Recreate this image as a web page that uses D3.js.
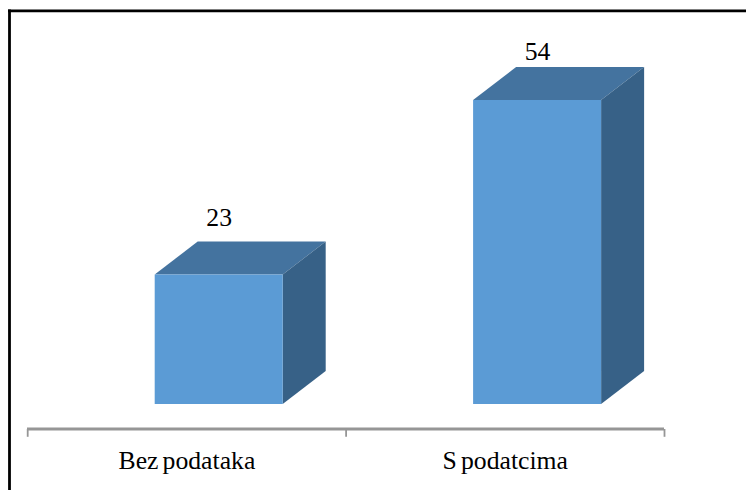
<!DOCTYPE html>
<html><head><meta charset="utf-8">
<script src="https://cdn.jsdelivr.net/npm/d3@7/dist/d3.min.js"></script>
<style>html,body{margin:0;padding:0;background:#fff}svg{display:block}</style>
</head><body><svg id="c" width="746" height="490"></svg>
<script>
const categories = ["Bez podataka", "S podatcima"];
const values = [23, 54];

const svg = d3.select("#c");
svg.append("line").attr("x1",8).attr("x2",746).attr("y1",10.8).attr("y2",10.8).attr("stroke","#000").attr("stroke-width",2.8);
svg.append("line").attr("x1",9.5).attr("x2",9.5).attr("y1",9.4).attr("y2",490).attr("stroke","#000").attr("stroke-width",2.8);

const x = d3.scaleBand().domain(categories).range([27.7,664.5]);
const y = d3.scaleLinear().domain([0,54]).range([404,100]);
const labelY = d3.scaleLinear().domain([23,54]).range([226,60]);
const barW = 128, dx = 43, dy = 33, off = x.bandwidth()/2 + 31.8 - barW/2;

const g = svg.append("g").selectAll("g").data(categories).join("g");
const X = c => x(c) + off;
const poly = (pts) => pts.map(p=>p.join(",")).join(" ");
g.append("polygon").attr("fill","#44739f")
  .attr("points",(c,i)=>poly([[X(c),y(values[i])],[X(c)+dx,y(values[i])-dy],[X(c)+barW+dx,y(values[i])-dy],[X(c)+barW,y(values[i])]]));
g.append("polygon").attr("fill","#376187")
  .attr("points",(c,i)=>poly([[X(c)+barW,y(values[i])],[X(c)+barW+dx,y(values[i])-dy],[X(c)+barW+dx,y(0)-dy],[X(c)+barW,y(0)]]));
g.append("rect").attr("fill","#5b9bd5")
  .attr("x",c=>X(c)).attr("y",(c,i)=>y(values[i])).attr("width",barW).attr("height",(c,i)=>y(0)-y(values[i]));
g.append("text").attr("x",c=>X(c)+barW/2+0.5).attr("y",(c,i)=>labelY(values[i]))
  .attr("text-anchor","middle").attr("font-family","Liberation Serif").attr("font-size",25.7).attr("fill","#000")
  .text((c,i)=>values[i]);

const axis = d3.axisBottom(x).tickSize(0).tickPadding(21.5);
const ag = svg.append("g").attr("transform","translate(0,429)").call(axis);
ag.select(".domain").remove();
ag.selectAll("text").attr("font-family","Liberation Serif").attr("font-size",25.7).attr("fill","#000").attr("word-spacing",-2.3);
const col="#969696";
ag.append("line").attr("x1",x.range()[0]-0.7).attr("x2",x.range()[1]-0.5).attr("stroke",col).attr("stroke-width",3.2);
[...categories.map(c=>x(c)), x.range()[1]].forEach(t=>{
  ag.append("line").attr("x1",t).attr("x2",t).attr("y1",0).attr("y2",7.8).attr("stroke",col).attr("stroke-width",1.8);
});
</script></body></html>
